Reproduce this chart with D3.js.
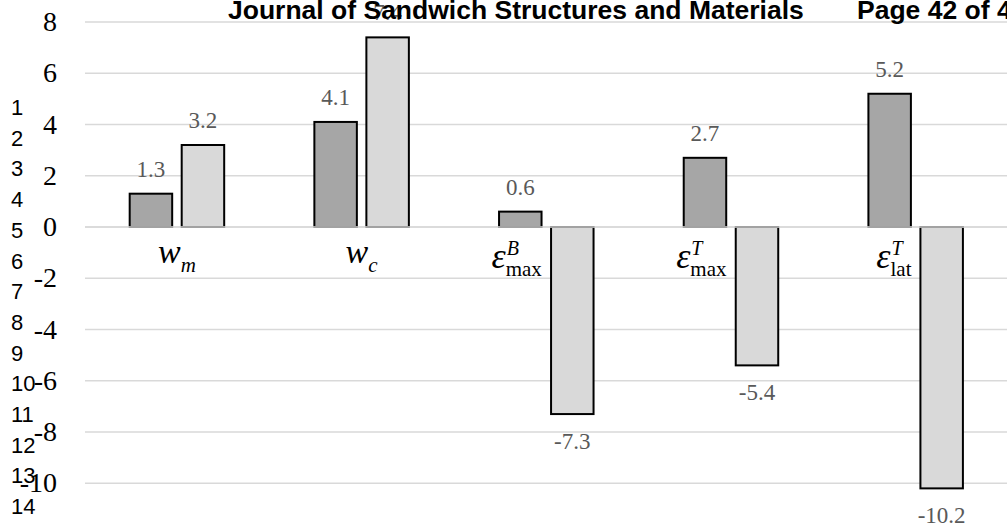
<!DOCTYPE html>
<html><head><meta charset="utf-8">
<script src="https://cdn.jsdelivr.net/npm/d3@7"></script>
<style>html,body{margin:0;padding:0;background:#fff;overflow:hidden}</style>
</head><body><svg id="c" width="1007" height="524"></svg>
<script>
// ---- data ----
const categories = ["wm", "wc", "epsBmax", "epsTmax", "epsTlat"];
const seriesA = [1.3, 4.1, 0.6, 2.7, 5.2];      // dark bars
const seriesB = [3.2, 7.4, -7.3, -5.4, -10.2];  // light bars
const yTicks = [8, 6, 4, 2, 0, -2, -4, -6, -8, -10, -12];
const lineNumbers = d3.range(1, 16);
const catBase = ["w", "w", "ε", "ε", "ε"];
const catSup = [null, null, "B", "T", "T"];
const catSub = ["m", "c", "max", "max", "lat"];
const headerLeft = "Journal of Sandwich Structures and Materials";
const headerRight = "Page 42 of 4";

// ---- layout ----
const serif = "Liberation Serif, Times New Roman, serif";
const sans = "Liberation Sans, Arial, sans-serif";
const svg = d3.select("#c");
const x0 = d3.scaleBand().domain(categories).range([84.6, 1008]).paddingInner(0).paddingOuter(0);
const bw = x0.bandwidth();
const x1 = d3.scaleBand().domain([0, 1]).range([bw / 2 - 47.25, bw / 2 + 47.25]).paddingInner(0.183).paddingOuter(0);
const y = d3.scaleLinear().domain([-12, 8]).range([534.5, 22]);
const darkFill = "#a6a6a6", lightFill = "#d9d9d9";

// gridlines
svg.append("g").selectAll("line").data(yTicks).join("line")
  .attr("x1", 85).attr("x2", 1007)
  .attr("y1", d => y(d)).attr("y2", d => y(d))
  .attr("stroke", "#d9d9d9").attr("stroke-width", 1.5);

// y tick labels
svg.append("g").selectAll("text").data(yTicks).join("text")
  .attr("x", 57).attr("y", d => y(d) + 9)
  .attr("text-anchor", "end")
  .style("font-family", serif)
  .attr("font-size", 28).attr("fill", "#000")
  .text(d => d);

// bars
const rows = categories.map((c, i) => ({c, vals: [seriesA[i], seriesB[i]]}));
const g = svg.append("g").selectAll("g").data(rows).join("g")
  .attr("transform", d => `translate(${x0(d.c)},0)`);
g.selectAll("rect").data(d => d.vals.map((v, k) => ({v, k}))).join("rect")
  .attr("x", d => x1(d.k)).attr("width", x1.bandwidth())
  .attr("y", d => y(Math.max(0, d.v)))
  .attr("height", d => Math.abs(y(d.v) - y(0)))
  .attr("fill", d => d.k === 0 ? darkFill : lightFill)
  .attr("stroke", "#000").attr("stroke-width", 2);

// value labels
g.selectAll("text.val").data(d => d.vals.map((v, k) => ({v, k}))).join("text")
  .attr("class", "val")
  .attr("x", d => x1(d.k) + x1.bandwidth() / 2)
  .attr("y", d => d.v >= 0 ? y(d.v) - 17 : y(d.v) + 35)
  .attr("text-anchor", "middle")
  .style("font-family", serif)
  .attr("font-size", 23).attr("fill", "#595959")
  .text(d => d.v);

// zero axis line on top
svg.append("line").attr("x1", 85).attr("x2", 1007).attr("y1", y(0)).attr("y2", y(0))
  .attr("stroke", "#d9d9d9").attr("stroke-width", 1.5);

// category labels
categories.forEach((c, i) => {
  const cx = x0(c) + bw / 2;
  const lg = svg.append("g");
  if (catSup[i] === null) {
    const t = lg.append("text").style("font-family", serif).attr("font-style", "italic")
      .attr("x", cx).attr("y", y(0) + 36).attr("text-anchor", "middle");
    t.append("tspan").attr("font-size", 34).text(catBase[i]);
    t.append("tspan").attr("font-size", 21).attr("dy", 9).text(catSub[i]);
  } else {
    const base = lg.append("text").style("font-family", serif).attr("font-style", "italic")
      .attr("font-size", 36).attr("x", 0).attr("y", 0).text(catBase[i]);
    const w = base.node().getComputedTextLength();
    lg.append("text").style("font-family", serif).attr("font-style", "italic")
      .attr("font-size", 20).attr("x", w + 1).attr("y", -13).text(catSup[i]);
    lg.append("text").style("font-family", serif)
      .attr("font-size", 21).attr("x", w).attr("y", 8).text(catSub[i]);
    const bb = lg.node().getBBox();
    lg.attr("transform", `translate(${cx - 4 - (bb.x + bb.width)},${y(0) + 41})`);
  }
});

// line numbers
const ln = d3.scaleLinear().domain([1, 15]).range([115, 115 + 14 * 30.7]);
svg.append("g").selectAll("text").data(lineNumbers).join("text")
  .attr("x", 11).attr("y", d => ln(d))
  .style("font-family", sans)
  .attr("font-size", 22).attr("fill", "#000")
  .text(d => d);

// header
svg.append("text").attr("x", 228).attr("y", 19)
  .style("font-family", sans).attr("font-weight", "bold")
  .attr("font-size", 26.5).attr("fill", "#000").text(headerLeft);
svg.append("text").attr("x", 857).attr("y", 19)
  .style("font-family", sans).attr("font-weight", "bold")
  .attr("font-size", 26.5).attr("fill", "#000").text(headerRight);
</script></body></html>
